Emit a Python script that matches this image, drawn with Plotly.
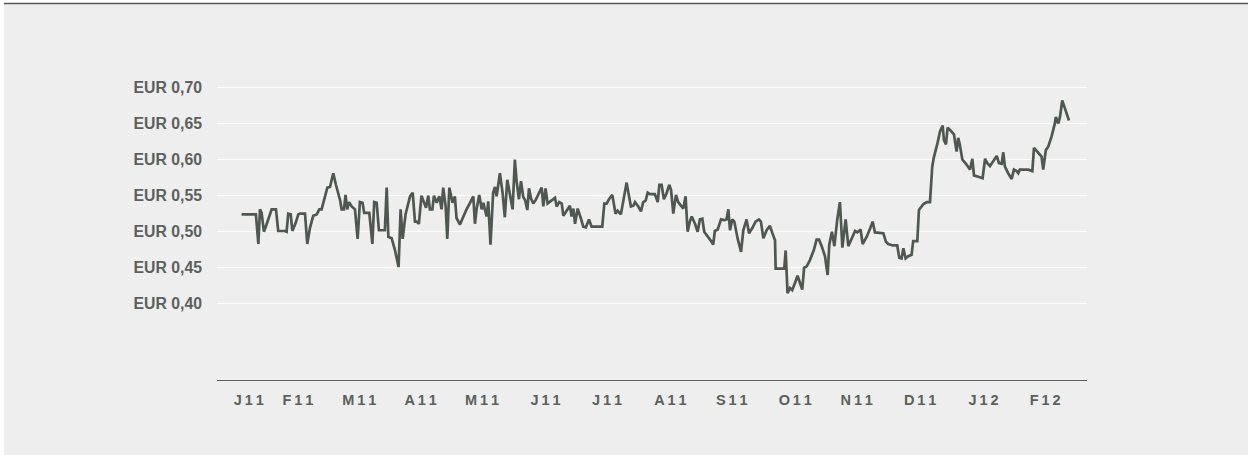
import pandas as pd
import plotly.graph_objects as go

# Observation day (days since 2011-01-01) and share price in EUR
day = [12.5, 15.0, 15.8, 19.0, 19.5, 20.7, 21.5, 22.3, 23.4, 24.7, 27.2, 29.3, 30.4, 33.7, 34.5, 35.3, 36.5, 37.3, 38.9, 40.2,
       41.0, 43.5, 44.6, 45.9, 47.5, 49.2, 50.5, 51.6, 52.9, 54.4, 55.7, 57.3, 58.6, 60.6, 61.4, 62.5, 63.3, 64.1, 65.0, 66.3,
       67.9, 69.2, 70.3, 71.6, 72.4, 74.9, 76.4, 77.3, 78.5, 79.6, 82.5, 83.4, 84.2, 85.8, 87.4, 89.2, 90.2, 91.2, 92.6, 94.8,
       96.1, 97.2, 98.0, 99.1, 100.4, 101.3, 102.6, 103.7, 104.5, 105.7, 106.5, 107.8, 109.1, 110.2, 111.0, 112.2, 113.0, 114.0, 115.6, 116.7,
       117.5, 119.2, 120.8, 122.4, 124.1, 125.7, 126.5, 127.3, 128.6, 129.8, 130.6, 132.2, 133.0, 134.1, 135.4, 136.3, 137.1, 138.7, 140.0, 141.1,
       142.3, 143.6, 144.9, 146.0, 146.9, 148.0, 149.0, 150.1, 151.0, 152.1, 152.9, 153.9, 155.0, 156.2, 157.8, 159.1, 159.9, 161.0, 162.0, 163.2,
       164.3, 165.6, 166.4, 167.7, 168.9, 169.7, 171.3, 172.9, 173.7, 174.6, 175.4, 176.7, 178.3, 179.4, 180.7, 182.2, 183.5, 188.7, 189.7, 190.8,
       192.0, 193.6, 195.2, 196.2, 197.8, 199.0, 200.6, 201.4, 202.7, 203.9, 204.7, 206.3, 207.6, 208.7, 209.9, 210.9, 212.0, 214.4, 215.8, 216.6,
       217.7, 218.8, 220.1, 221.4, 222.3, 223.4, 224.7, 225.8, 227.1, 228.3, 229.4, 230.4, 231.5, 232.4, 234.0, 235.3, 236.4, 237.6, 238.5, 240.5,
       242.1, 242.9, 243.7, 245.1, 246.7, 248.3, 249.4, 250.3, 251.1, 252.2, 253.2, 254.8, 256.5, 257.6, 259.2, 260.4, 262.0, 263.6, 265.2, 266.2,
       267.4, 269.0, 270.6, 271.8, 273.1, 273.4, 275.5, 277.6, 278.3, 279.2, 280.4, 281.5, 283.1, 284.1, 285.3, 286.4, 287.3, 288.6, 290.2, 292.1,
       293.4, 294.6, 295.9, 297.5, 298.8, 299.6, 300.9, 302.1, 303.5, 304.8, 306.0, 307.6, 308.9, 310.5, 312.2, 313.3, 314.9, 315.9, 317.9, 319.5,
       320.8, 321.9, 324.4, 326.0, 327.3, 328.4, 330.6, 332.8, 333.8, 334.9, 335.8, 336.9, 338.2, 339.8, 340.6, 342.6, 343.4, 345.5, 347.2, 348.8,
       349.9, 350.7, 352.5, 353.7, 355.0, 355.6, 356.6, 357.4, 358.6, 360.5, 361.8, 362.6, 363.4, 364.6, 366.4, 368.3, 369.5, 370.3, 372.4, 374.5,
       375.7, 376.8, 378.1, 379.7, 381.4, 382.5, 383.8, 384.6, 385.4, 387.0, 388.7, 389.8, 391.1, 391.9, 392.7, 394.7, 396.8, 398.8, 399.6, 401.2,
       403.3, 404.1, 405.4, 406.6, 408.2, 409.8, 410.3, 411.5, 412.3, 413.4, 415.1, 416.7]
price = [0.524, 0.524, 0.525, 0.525, 0.524, 0.483, 0.531, 0.526, 0.500, 0.510, 0.531, 0.531, 0.501, 0.501, 0.500, 0.525, 0.524, 0.501, 0.512, 0.524,
         0.525, 0.525, 0.483, 0.505, 0.522, 0.524, 0.531, 0.531, 0.544, 0.561, 0.562, 0.581, 0.565, 0.544, 0.531, 0.531, 0.551, 0.531, 0.541, 0.535,
         0.531, 0.490, 0.541, 0.540, 0.526, 0.526, 0.483, 0.541, 0.540, 0.502, 0.502, 0.561, 0.493, 0.491, 0.475, 0.451, 0.531, 0.490, 0.524, 0.549,
         0.554, 0.514, 0.514, 0.511, 0.550, 0.542, 0.533, 0.550, 0.531, 0.531, 0.550, 0.540, 0.549, 0.531, 0.561, 0.535, 0.490, 0.561, 0.540, 0.549,
         0.519, 0.510, 0.521, 0.531, 0.540, 0.549, 0.511, 0.531, 0.551, 0.531, 0.540, 0.521, 0.542, 0.482, 0.554, 0.562, 0.549, 0.581, 0.554, 0.520,
         0.572, 0.554, 0.531, 0.600, 0.569, 0.545, 0.570, 0.548, 0.544, 0.530, 0.560, 0.546, 0.539, 0.544, 0.553, 0.561, 0.535, 0.560, 0.539, 0.541,
         0.544, 0.547, 0.535, 0.541, 0.539, 0.522, 0.529, 0.536, 0.521, 0.532, 0.511, 0.532, 0.518, 0.507, 0.506, 0.517, 0.507, 0.507, 0.539, 0.539,
         0.545, 0.551, 0.525, 0.529, 0.524, 0.541, 0.568, 0.555, 0.535, 0.536, 0.541, 0.535, 0.528, 0.541, 0.543, 0.554, 0.552, 0.552, 0.541, 0.565,
         0.565, 0.545, 0.553, 0.565, 0.558, 0.525, 0.551, 0.541, 0.537, 0.532, 0.549, 0.500, 0.514, 0.521, 0.511, 0.500, 0.517, 0.518, 0.500, 0.493,
         0.486, 0.482, 0.501, 0.503, 0.517, 0.516, 0.517, 0.531, 0.502, 0.517, 0.514, 0.491, 0.472, 0.502, 0.517, 0.498, 0.505, 0.514, 0.517, 0.514,
         0.491, 0.502, 0.508, 0.498, 0.488, 0.449, 0.449, 0.449, 0.474, 0.415, 0.422, 0.419, 0.431, 0.439, 0.429, 0.420, 0.450, 0.452, 0.461, 0.475,
         0.489, 0.489, 0.480, 0.466, 0.440, 0.482, 0.500, 0.480, 0.517, 0.541, 0.478, 0.517, 0.480, 0.491, 0.501, 0.499, 0.503, 0.483, 0.493, 0.504,
         0.514, 0.499, 0.499, 0.498, 0.486, 0.483, 0.481, 0.481, 0.464, 0.463, 0.477, 0.463, 0.466, 0.468, 0.487, 0.487, 0.530, 0.538, 0.541, 0.541,
         0.590, 0.603, 0.623, 0.639, 0.647, 0.627, 0.621, 0.644, 0.641, 0.635, 0.611, 0.630, 0.620, 0.600, 0.594, 0.586, 0.601, 0.578, 0.576, 0.574,
         0.601, 0.595, 0.591, 0.598, 0.605, 0.595, 0.594, 0.610, 0.590, 0.581, 0.573, 0.586, 0.584, 0.581, 0.586, 0.586, 0.586, 0.584, 0.616, 0.611,
         0.604, 0.586, 0.613, 0.618, 0.632, 0.650, 0.659, 0.650, 0.659, 0.682, 0.666, 0.654]

tick_dates = ["2011-01-17", "2011-02-10", "2011-03-12", "2011-04-11", "2011-05-11", "2011-06-11", "2011-07-11",
              "2011-08-11", "2011-09-10", "2011-10-11", "2011-11-10", "2011-12-11", "2012-01-11", "2012-02-10"]
tick_labels = ["J11", "F11", "M11", "A11", "M11", "J11", "J11", "A11", "S11", "O11", "N11", "D11", "J12", "F12"]
y_ticks = [0.40, 0.45, 0.50, 0.55, 0.60, 0.65, 0.70]
y_labels = ["EUR 0,40", "EUR 0,45", "EUR 0,50", "EUR 0,55", "EUR 0,60", "EUR 0,65", "EUR 0,70"]

dates = pd.Timestamp("2011-01-01") + pd.to_timedelta(day, unit="D")
TXT = "#5a615c"
LINE = "#4f5751"
spaced = ["\u2009".join(list(t)) for t in tick_labels]

fig = go.Figure()
fig.add_trace(go.Scatter(x=dates, y=price, mode="lines",
                         line=dict(color=LINE, width=2.7), hoverinfo="x+y"))

fig.update_layout(
    width=1248, height=455,
    margin=dict(l=217, r=161, t=85, b=75),
    paper_bgcolor="#eeeeee", plot_bgcolor="#eeeeee",
    showlegend=False,
    font=dict(family="Liberation Sans, Arial, sans-serif", color=TXT),
    xaxis=dict(range=["2011-01-01 12:00", "2012-03-01 12:00"], tickmode="array",
               tickvals=tick_dates, ticktext=spaced, showgrid=False, zeroline=False,
               showline=True, linecolor="#5a605b", linewidth=1.3,
               ticks="", tickfont=dict(size=14.5, color=TXT, weight="bold"),
               ticklabelstandoff=6),
    yaxis=dict(range=[0.2946, 0.7032], tickmode="array", tickvals=y_ticks, ticktext=y_labels,
               showgrid=True, gridcolor="#ffffff", gridwidth=1.3, zeroline=False, showline=False,
               ticks="", tickfont=dict(size=15.8, color=TXT, weight="bold"),
               ticklabelstandoff=14),
    shapes=[
        dict(type="rect", xref="paper", yref="paper", x0=-0.26, x1=1.2, y0=1.2763, y1=1.30,
             fillcolor="#ffffff", line=dict(width=0), layer="below"),
        dict(type="rect", xref="paper", yref="paper", x0=-0.26, x1=-0.2448, y0=-0.3, y1=1.30,
             fillcolor="#ffffff", line=dict(width=0), layer="below"),
        dict(type="line", xref="paper", yref="paper", x0=-0.2448, x1=1.2, y0=1.2763, y1=1.2763,
             line=dict(color="#555a56", width=1.4)),
    ],
)

fig.write_html("out.html")
